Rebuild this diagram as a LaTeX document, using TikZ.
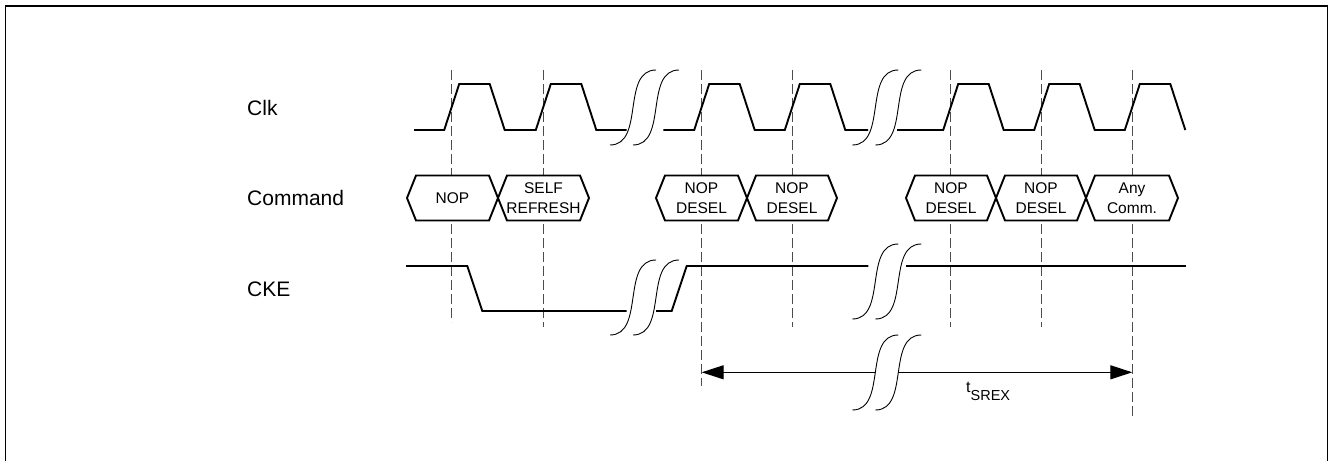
\documentclass[tikz,border=0pt]{standalone}
\usepackage{fontspec}
\setmainfont{Liberation Sans}
\usetikzlibrary{arrows.meta}
\newcommand\sbreak[2]{\draw[brk] (#1,#2) .. controls (#1+35,#2) and (#1+11,#2-75) .. (#1+46,#2-75);}
\newcommand\cmdbox[4]{%
  \draw[cmdline] (#1,198) -- (#1+9,175.5) -- (#2-9,175.5) -- (#2,198) -- (#2-9,220.5) -- (#1+9,220.5) -- cycle;
  \node[cmdtext] (#4) at ({(#1+#2)/2},198) {#3};}
\newcommand\pulse[1]{-- (#1-7.5,130) -- (#1+7.5,84) -- (#1+38,84) -- (#1+53,130)}
\begin{document}
\begin{tikzpicture}[x=1pt,y=-1pt,
  sig/.style={line width=1.9pt, line join=miter},
  gridline/.style={dash pattern=on 10pt off 4pt, black!70, line width=1.1pt},
  brk/.style={line width=0.9pt},
  cmdline/.style={line width=1.9pt, fill=white},
  cmdtext/.style={inner sep=0pt, align=center, font=\fontsize{15.5}{19.5}\selectfont},
  lbl/.style={inner sep=0pt, anchor=base west, font=\fontsize{21}{24}\selectfont},
  meas/.style={line width=1.2pt}]
\useasboundingbox (0,0) rectangle (1329,460);
% frame
\draw[line width=1.5pt] (5.5,462) -- (5.5,6) -- (1327.3,6) -- (1327.3,462);
% labels
\node[lbl] (lclk) at (247,115.5) {Clk};
\node[lbl] (lcmd) at (247,205.5) {Command};
\node[lbl] (lcke) at (247,296) {CKE};
% dashed grid lines
\draw[gridline] (451.7,70) -- (451.7,322);
\draw[gridline] (543.3,70) -- (543.3,327);
\draw[gridline] (701.7,70) -- (701.7,386);
\draw[gridline] (792.3,70) -- (792.3,327);
\draw[gridline] (950.7,70) -- (950.7,327);
\draw[gridline] (1041.7,70) -- (1041.7,327);
\draw[gridline] (1132.3,70) -- (1132.3,417);
% clock
\draw[sig] (414,130) \pulse{451.7} \pulse{543.3} -- (626.7,130);
\draw[sig] (663.3,130) \pulse{701.7} \pulse{792.3} -- (868,130);
\draw[sig] (897,130) \pulse{950.7} \pulse{1041.7} \pulse{1132.3};
\sbreak{610}{145}\sbreak{633}{145}
\sbreak{852.3}{145}\sbreak{875.3}{145}
% command
\cmdbox{407}{498}{NOP}{c1}
\cmdbox{498}{589}{SELF\\REFRESH}{c2}
\cmdbox{656}{747}{NOP\\DESEL}{c3}
\cmdbox{747}{837}{NOP\\DESEL}{c4}
\cmdbox{906}{996}{NOP\\DESEL}{c5}
\cmdbox{996}{1086}{NOP\\DESEL}{c6}
\cmdbox{1086}{1178}{Any\\Comm.}{c7}
% CKE
\draw[sig] (406,266) -- (467.3,266) -- (482.3,311) -- (626.7,311);
\draw[sig] (656,311) -- (671.7,311) -- (686.7,266) -- (868.3,266);
\draw[sig] (906,266) -- (1186,266);
\sbreak{610}{335}\sbreak{633}{335}
\sbreak{852.3}{319}\sbreak{875.3}{319}
% tSREX
\coordinate (aL) at (701.7,372.3);
\coordinate (bL) at (875,372.3);
\coordinate (bR) at (898,372.3);
\coordinate (aR) at (1132.3,372.3);
\draw[meas, {Triangle[length=22pt,width=14pt]}-] (aL) -- (bL);
\draw[meas, -{Triangle[length=22pt,width=14pt]}] (bR) -- (aR);
\sbreak{852.3}{410}\sbreak{875.3}{410}
\node[inner sep=0pt, anchor=base west, font=\fontsize{16}{18}\selectfont] (tsrex) at (966,392.5) {t\raisebox{-7.5pt}{\fontsize{14.5}{16}\selectfont SREX}};
\end{tikzpicture}
\end{document}
